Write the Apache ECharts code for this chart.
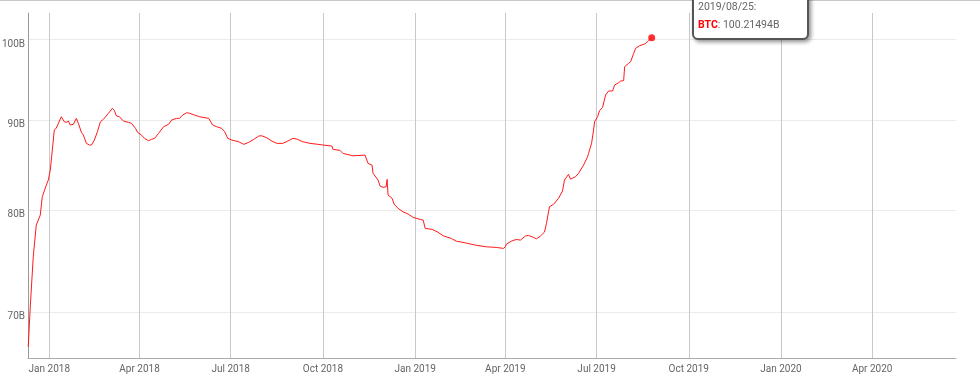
<!DOCTYPE html>
<html><head><meta charset="utf-8">
<script src="https://cdn.jsdelivr.net/npm/echarts@6/dist/echarts.min.js"></script>
<style>
html,body{margin:0;padding:0;background:#fff;}
#c{width:980px;height:381px;position:relative;}
#topline{position:absolute;left:0;top:0;width:980px;height:1px;background:#c8c8c8;z-index:99999;}
</style>
</head><body><div id="c"></div><div id="topline"></div>
<script>
const dates = [
'2017-12-11','2017-12-13','2017-12-16','2017-12-19','2017-12-23','2017-12-25','2017-12-28','2017-12-31',
'2018-01-02','2018-01-04','2018-01-06','2018-01-08','2018-01-13','2018-01-16','2018-01-18','2018-01-20',
'2018-01-22','2018-01-25','2018-01-28','2018-01-30','2018-02-02','2018-02-04','2018-02-07','2018-02-10',
'2018-02-12','2018-02-15','2018-02-18','2018-02-21','2018-02-24','2018-03-01','2018-03-05','2018-03-07',
'2018-03-09','2018-03-12','2018-03-16','2018-03-21','2018-03-24','2018-03-28','2018-03-30','2018-04-03',
'2018-04-06','2018-04-10','2018-04-13','2018-04-16','2018-04-20','2018-04-25','2018-04-30','2018-05-03',
'2018-05-08','2018-05-11','2018-05-14','2018-05-18','2018-05-21','2018-05-26','2018-05-31','2018-06-09',
'2018-06-13','2018-06-17','2018-06-22','2018-06-25','2018-06-28','2018-07-02','2018-07-09','2018-07-14',
'2018-07-19','2018-07-24','2018-07-29','2018-08-01','2018-08-06','2018-08-11','2018-08-16','2018-08-22',
'2018-08-27','2018-09-01','2018-09-05','2018-09-11','2018-09-18','2018-09-26','2018-10-01','2018-10-10',
'2018-10-11','2018-10-18','2018-10-21','2018-10-31','2018-11-12','2018-11-15','2018-11-19','2018-11-20',
'2018-11-25','2018-11-27','2018-11-30','2018-12-03','2018-12-04','2018-12-05','2018-12-09','2018-12-11',
'2018-12-15','2018-12-20','2018-12-25','2018-12-30','2019-01-06','2019-01-09','2019-01-11','2019-01-18',
'2019-01-23','2019-01-29','2019-02-06','2019-02-11','2019-02-20','2019-03-02','2019-03-13','2019-03-23',
'2019-03-30','2019-04-01','2019-04-02','2019-04-07','2019-04-12','2019-04-16','2019-04-21','2019-04-24',
'2019-04-29','2019-05-02','2019-05-06','2019-05-10','2019-05-12','2019-05-15','2019-05-19','2019-05-24',
'2019-05-28','2019-05-30','2019-06-03','2019-06-05','2019-06-10','2019-06-13','2019-06-18','2019-06-22',
'2019-06-23','2019-06-26','2019-06-28','2019-06-29','2019-07-02','2019-07-04','2019-07-07','2019-07-10',
'2019-07-13','2019-07-17','2019-07-19','2019-07-23','2019-07-25','2019-07-28','2019-07-29','2019-08-02',
'2019-08-04','2019-08-07','2019-08-09','2019-08-13','2019-08-18','2019-08-21','2019-08-25'
];
const btcValues = [
66.87,70.46,75.23,78.42,79.45,81.38,82.31,83.18,
84.27,86.51,88.80,89.04,90.36,89.77,89.70,89.85,
89.39,89.47,90.17,89.59,88.54,88.22,87.27,87.08,
87.08,87.65,88.61,89.77,90.06,90.77,91.36,91.08,
90.45,90.36,89.85,89.70,89.59,89.00,88.54,88.22,
87.84,87.57,87.73,87.84,88.42,89.19,89.47,89.97,
90.17,90.17,90.56,90.84,90.77,90.56,90.36,90.17,
89.39,89.19,89.00,88.61,87.84,87.65,87.45,87.16,
87.38,87.73,88.11,88.14,87.91,87.53,87.27,87.27,
87.53,87.84,87.76,87.45,87.27,87.16,87.08,86.96,
86.59,86.47,86.13,85.86,85.94,85.01,84.82,83.91,
83.18,82.53,82.38,82.45,83.25,81.56,81.21,80.60,
80.15,79.79,79.56,79.21,79.00,78.93,78.08,77.98,
77.73,77.33,77.06,76.79,76.62,76.39,76.22,76.16,
76.06,76.22,76.49,76.79,76.96,76.89,77.30,77.37,
77.17,77.02,77.30,77.70,78.59,80.32,80.57,81.21,
81.99,83.18,83.80,83.28,83.54,83.91,84.82,85.75,
86.13,87.27,88.80,89.77,90.36,91.08,91.48,92.97,
93.46,93.46,94.19,94.48,94.69,94.73,96.48,96.91,
97.11,98.18,98.83,99.17,99.39,99.69,100.21494
];
const yTickValues = [70, 80, 90, 100];
const monthNames = ['Jan','Feb','Mar','Apr','May','Jun','Jul','Aug','Sep','Oct','Nov','Dec'];
const seriesName = 'BTC';
const DAY = 86400000;

const lineData = dates.map((d, i) => [d, btcValues[i]]);
const last = dates.length - 1;

const chart = echarts.init(document.getElementById('c'), null, {renderer: 'canvas'});
chart.setOption({
  animation: false,
  backgroundColor: '#fff',
  textStyle: {fontFamily: 'Roboto'},
  grid: {left: 28, right: 24, top: 13, bottom: 23, containLabel: false, outerBoundsMode: 'none'},
  tooltip: {
    trigger: 'item',
    triggerOn: 'none',
    alwaysShowContent: true,
    position: [692, -8],
    backgroundColor: '#fff',
    borderColor: '#555',
    borderWidth: 2,
    borderRadius: 6,
    padding: [4, 4],
    extraCssText: 'width:105px;box-shadow:2px 2px 4px rgba(0,0,0,0.45);',
    textStyle: {fontFamily: 'Roboto', fontSize: 10.5, color: '#666'},
    formatter: function () {
      return '<div style="line-height:18px;color:#666">' + dates[last].replace(/-/g, '/') + ':</div>' +
        '<div style="line-height:18px;color:#666"><b style="color:#ff0000">' + seriesName + '</b>: ' + btcValues[last] + 'B</div>';
    }
  },
  xAxis: {
    type: 'time',
    min: new Date('2017-12-10T18:00:00').getTime(),
    max: new Date('2020-06-23T14:00:00').getTime(),
    minInterval: 90 * DAY,
    maxInterval: 92 * DAY,
    axisLine: {show: true, lineStyle: {color: '#aaa', width: 1}},
    axisTick: {show: false},
    axisLabel: {
      color: '#666', fontSize: 10, margin: 6, fontFamily: 'Roboto',
      showMinLabel: false, showMaxLabel: false,
      formatter: function (v) {
        const t = new Date(v);
        if (t.getDate() !== 1 || t.getMonth() % 3 !== 0 || t.getHours() !== 0) return '';
        return monthNames[t.getMonth()] + ' ' + t.getFullYear();
      }
    },
    splitLine: {show: true, showMinLine: false, showMaxLine: false, lineStyle: {color: '#c8c8c8', width: 1}}
  },
  yAxis: {
    type: 'log',
    logBase: 10,
    min: 65.9,
    max: 103.5,
    axisLine: {show: true, lineStyle: {color: '#999', width: 1}},
    axisTick: {show: false, customValues: yTickValues},
    axisLabel: {
      customValues: yTickValues,
      color: '#666', fontSize: 10, margin: 3, fontFamily: 'Roboto', verticalAlign: 'top',
      formatter: function (v) { return Math.round(v) + 'B'; }
    },
    splitLine: {show: true, lineStyle: {color: '#ebebeb', width: 1}}
  },
  series: [
    {
      name: seriesName,
      type: 'line',
      data: lineData,
      showSymbol: false,
      symbol: 'none',
      lineStyle: {color: '#ff1a1a', width: 1},
      itemStyle: {color: '#ff0000'},
      silent: true,
      z: 2
    },
    {
      name: seriesName,
      type: 'scatter',
      data: [[dates[last], btcValues[last]]],
      symbol: 'circle',
      symbolSize: 7,
      itemStyle: {color: '#ff0000'},
      z: 3
    }
  ]
});
chart.dispatchAction({type: 'showTip', seriesIndex: 1, dataIndex: 0});
</script>
</body></html>
